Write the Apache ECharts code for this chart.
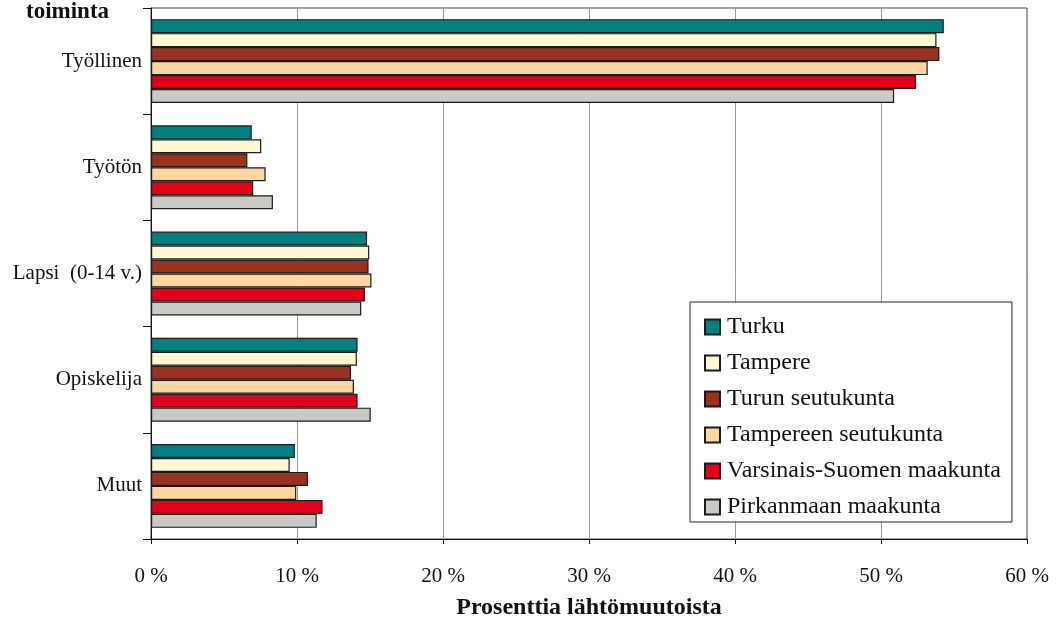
<!DOCTYPE html>
<html><head><meta charset="utf-8">
<script src="https://cdn.jsdelivr.net/npm/echarts@6/dist/echarts.min.js"></script>
<style>html,body{margin:0;padding:0;background:#fff}#c{width:1060px;height:622px}</style>
</head><body><div id="c"></div>
<script>
const categories = ['Työllinen', 'Työtön', 'Lapsi  (0-14 v.)', 'Opiskelija', 'Muut'];
const seriesNames = ['Turku', 'Tampere', 'Turun seutukunta', 'Tampereen seutukunta', 'Varsinais-Suomen maakunta', 'Pirkanmaan maakunta'];
const turku = [54.3, 6.9, 14.8, 14.15, 9.85];
const tampere = [53.8, 7.55, 14.95, 14.1, 9.5];
const turunSeutukunta = [54.0, 6.6, 14.9, 13.7, 10.75];
const tampereenSeutukunta = [53.2, 7.85, 15.1, 13.9, 9.95];
const varsinaisSuomi = [52.4, 7.0, 14.65, 14.15, 11.75];
const pirkanmaa = [50.9, 8.35, 14.4, 15.05, 11.35];
const xTicks = [0, 10, 20, 30, 40, 50, 60];
const colors = ['#008080', '#FFF8D2', '#993320', '#FCD5A0', '#E2001A', '#C9C9C5'];

const values = [turku, tampere, turunSeutukunta, tampereenSeutukunta, varsinaisSuomi, pirkanmaa];
const serif = '"Liberation Serif", "Times New Roman", serif';
const chart = echarts.init(document.getElementById('c'));
chart.setOption({
  animation: false,
  textStyle: { fontFamily: serif, color: '#111' },
  grid: { left: 151, right: 33, top: 8, bottom: 83, show: true, borderColor: '#444', borderWidth: 1, backgroundColor: 'transparent', containLabel: false, outerBoundsMode: 'none' },
  legend: {
    orient: 'vertical', left: 690, top: 302,
    padding: [12, 11, 2, 14],
    itemWidth: 15, itemHeight: 15, itemGap: 10,
    backgroundColor: '#fff', borderColor: '#222', borderWidth: 1,
    icon: 'rect',
    textStyle: { fontFamily: serif, fontSize: 24, lineHeight: 24, color: '#111', padding: [2, 0, 0, 2] },
    data: seriesNames
  },
  xAxis: {
    type: 'value', min: xTicks[0], max: xTicks[xTicks.length - 1], interval: 10,
    axisLine: { show: true, lineStyle: { color: '#111', width: 1 } },
    axisTick: { show: true, length: 5, lineStyle: { color: '#111' } },
    axisLabel: { formatter: '{value} %', fontSize: 21, margin: 27, color: '#111', fontFamily: serif },
    splitLine: { show: true, lineStyle: { color: '#999', width: 1 } },
    name: 'Prosenttia lähtömuutoista', nameLocation: 'middle', nameGap: 57,
    nameTextStyle: { fontSize: 24, fontWeight: 'bold', color: '#111', fontFamily: serif }
  },
  yAxis: {
    type: 'category', data: categories, inverse: true,
    axisLine: { show: true, lineStyle: { color: '#111', width: 1 } },
    axisTick: { show: true, length: 8, lineStyle: { color: '#111' } },
    axisLabel: { fontSize: 21, margin: 9, color: '#111', fontFamily: serif },
    splitLine: { show: false }
  },
  graphic: [{
    type: 'text', left: 26, top: 1,
    style: { text: 'toiminta', font: 'bold 23px ' + serif, fill: '#111' }
  }],
  series: seriesNames.map((n, i) => ({
    name: n, type: 'bar', data: values[i],
    barGap: '0%', barCategoryGap: '21%',
    itemStyle: { color: colors[i], borderColor: '#1a1a1a', borderWidth: 1.2 }
  }))
});
</script></body></html>
